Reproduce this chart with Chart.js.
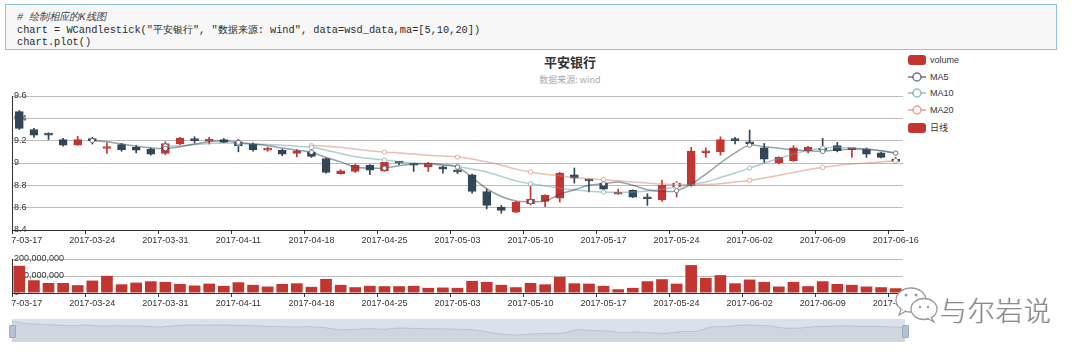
<!DOCTYPE html>
<html>
<head>
<meta charset="utf-8">
<script src="https://cdn.jsdelivr.net/npm/chart.js@4.4.0/dist/chart.umd.min.js"></script>
<style>
  body { margin: 0; width: 1080px; height: 354px; overflow: hidden; position: relative; background: #fff;
         font-family: "Liberation Sans", Arial, sans-serif; }
  .cell { position: absolute; left: 5px; top: 4px; width: 1050px; height: 44px;
          border: 1px solid #8ec3e2; background: #f7f7f7; }
  .cell pre { margin: 0; padding: 6px 0 0 11px; font-family: "Liberation Mono", "DejaVu Sans Mono", monospace;
              font-size: 10.3px; line-height: 12.5px; color: #2a2a2a; }
  .cell .cm { font-style: italic; color: #444; }
  .title { position: absolute; left: 470px; width: 200px; text-align: center; top: 52px;
           font: bold 13px "Noto Sans CJK SC", sans-serif; color: #333; }
  .subtitle { position: absolute; left: 470px; width: 200px; text-align: center; top: 73px;
              font: 9px "Noto Sans CJK SC", sans-serif; color: #aaa; }
  .lg { position: absolute; left: 908px; height: 12px; line-height: 12px; font-size: 9px; color: #333;
        font-family: "Liberation Sans", "Noto Sans CJK SC", sans-serif; white-space: nowrap; }
  .lg .box { display: inline-block; width: 18px; height: 10px; border-radius: 3px; background: #c23531;
             vertical-align: middle; margin-right: 4px; margin-top: -2px; }
  .lg svg { vertical-align: middle; margin-right: 4px; margin-top: -2px; }
  canvas { position: absolute; }
  .slider { position: absolute; left: 12px; top: 319px; width: 893px; height: 23px; background: #dbe1ea; }
  .handle { position: absolute; top: 325px; width: 5px; height: 11px; background: #b4c2d4; border: 1px solid #9aaac0; border-radius: 1px; }
  .wm { position: absolute; left: 940px; top: 290px; font: 300 27px "Noto Sans CJK SC", sans-serif; color: #8a8a8a;
        text-shadow: 1px 1px 0 #fff, -1px 0 0 #ccc; letter-spacing: 1px; }
</style>
</head>
<body>
<div class="cell"><pre><span class="cm"># 绘制相应的K线图</span>
chart = WCandlestick("平安银行", "数据来源: wind", data=wsd_data,ma=[5,10,20])
chart.plot()</pre></div>

<div class="title">平安银行</div>
<div class="subtitle">数据来源: wind</div>

<div class="lg" style="top:54px"><span class="box"></span>volume</div>
<div class="lg" style="top:71px"><svg width="18" height="12"><line x1="0" y1="6" x2="18" y2="6" stroke="rgba(47,69,84,0.7)" stroke-width="1.5"/><circle cx="9" cy="6" r="4" fill="#fff" stroke="rgba(47,69,84,0.7)" stroke-width="1.5"/></svg>MA5</div>
<div class="lg" style="top:87px"><svg width="18" height="12"><line x1="0" y1="6" x2="18" y2="6" stroke="rgba(97,160,168,0.7)" stroke-width="1.5"/><circle cx="9" cy="6" r="4" fill="#fff" stroke="rgba(97,160,168,0.7)" stroke-width="1.5"/></svg>MA10</div>
<div class="lg" style="top:104px"><svg width="18" height="12"><line x1="0" y1="6" x2="18" y2="6" stroke="rgba(212,130,101,0.7)" stroke-width="1.5"/><circle cx="9" cy="6" r="4" fill="#fff" stroke="rgba(212,130,101,0.7)" stroke-width="1.5"/></svg>MA20</div>
<div class="lg" style="top:122px"><span class="box"></span>日线</div>

<canvas id="mainChart" width="1069" height="162" style="left:11px; top:86px;"></canvas>
<canvas id="volChart" width="1069" height="62" style="left:11px; top:249px;"></canvas>

<div class="slider"><canvas id="zoomChart" width="893" height="23" style="left:0; top:0;"></canvas></div>
<div class="handle" style="left:9px"></div>
<div class="handle" style="left:902px"></div>

<svg style="position:absolute; left:893px; top:283px" width="48" height="44">
  <ellipse cx="18" cy="17" rx="15" ry="12" fill="#fff" stroke="#999" stroke-width="1.3"/>
  <path d="M8 26 L6 32 L13 28" fill="#fff" stroke="#999" stroke-width="1.3"/>
  <ellipse cx="31" cy="26" rx="13" ry="10.5" fill="#fff" stroke="#999" stroke-width="1.3"/>
  <path d="M38 34 L41 39 L34 35" fill="#fff" stroke="#999" stroke-width="1.3"/>
  <circle cx="13" cy="12" r="1.5" fill="#999"/><circle cx="23" cy="12" r="1.5" fill="#999"/>
  <circle cx="27" cy="24" r="1.2" fill="#999"/><circle cx="35" cy="24" r="1.2" fill="#999"/>
</svg>
<div class="wm">与尔岩说</div>

<script>
const dates = [
  '2017-03-17','2017-03-20','2017-03-21','2017-03-22','2017-03-23','2017-03-24','2017-03-27','2017-03-28','2017-03-29','2017-03-30',
  '2017-03-31','2017-04-05','2017-04-06','2017-04-07','2017-04-10','2017-04-11','2017-04-12','2017-04-13','2017-04-14','2017-04-17',
  '2017-04-18','2017-04-19','2017-04-20','2017-04-21','2017-04-24','2017-04-25','2017-04-26','2017-04-27','2017-04-28','2017-05-02',
  '2017-05-03','2017-05-04','2017-05-05','2017-05-08','2017-05-09','2017-05-10','2017-05-11','2017-05-12','2017-05-15','2017-05-16',
  '2017-05-17','2017-05-18','2017-05-19','2017-05-22','2017-05-23','2017-05-24','2017-05-25','2017-05-26','2017-05-31','2017-06-01',
  '2017-06-02','2017-06-05','2017-06-06','2017-06-07','2017-06-08','2017-06-09','2017-06-12','2017-06-13','2017-06-14','2017-06-15',
  '2017-06-16'
];

const openPrices = [
  9.46, 9.30, 9.26, 9.21, 9.16, 9.21, 9.13, 9.165, 9.14, 9.125,
  9.085, 9.17, 9.21, 9.195, 9.21, 9.19, 9.17, 9.115, 9.115, 9.085,
  9.10, 9.04, 8.905, 8.925, 8.98, 8.93, 9.01, 8.985, 8.965, 8.965,
  8.93, 8.895, 8.745, 8.605, 8.56, 8.635, 8.655, 8.685, 8.895, 8.85,
  8.82, 8.72, 8.755, 8.69, 8.67, 8.785, 8.80, 9.09, 9.10, 9.21,
  9.19, 9.135, 9.00, 9.02, 9.11, 9.125, 9.155, 9.12, 9.125, 9.09,
  9.035
];
const closePrices = [
  9.31, 9.25, 9.25, 9.16, 9.21, 9.20, 9.145, 9.12, 9.115, 9.08,
  9.175, 9.22, 9.20, 9.21, 9.185, 9.155, 9.12, 9.13, 9.08, 9.11,
  9.06, 8.915, 8.93, 8.98, 8.935, 9.005, 9.00, 8.98, 9.00, 8.945,
  8.92, 8.745, 8.62, 8.575, 8.65, 8.675, 8.71, 8.91, 8.865, 8.84,
  8.765, 8.735, 8.695, 8.68, 8.80, 8.82, 9.105, 9.11, 9.21, 9.20,
  9.17, 9.035, 9.05, 9.135, 9.14, 9.115, 9.11, 9.13, 9.08, 9.05,
  9.015
];
const lowPrices = [
  9.30, 9.23, 9.21, 9.15, 9.16, 9.17, 9.085, 9.105, 9.09, 9.07,
  9.075, 9.165, 9.18, 9.17, 9.18, 9.10, 9.105, 9.105, 9.065, 9.055,
  9.05, 8.91, 8.90, 8.915, 8.895, 8.925, 8.985, 8.925, 8.925, 8.91,
  8.905, 8.73, 8.59, 8.55, 8.555, 8.625, 8.61, 8.65, 8.82, 8.74,
  8.755, 8.72, 8.69, 8.62, 8.655, 8.695, 8.79, 9.05, 9.07, 9.17,
  9.155, 9.005, 8.995, 9.015, 9.09, 9.09, 9.10, 9.05, 9.05, 9.045,
  9.005
];
const highPrices = [
  9.47, 9.31, 9.27, 9.22, 9.24, 9.23, 9.18, 9.175, 9.155, 9.135,
  9.19, 9.23, 9.235, 9.23, 9.22, 9.21, 9.18, 9.14, 9.125, 9.12,
  9.12, 9.045, 8.94, 8.99, 8.985, 9.01, 9.015, 8.99, 9.005, 8.97,
  8.94, 8.90, 8.765, 8.62, 8.655, 8.81, 8.715, 8.915, 8.955, 8.855,
  8.83, 8.765, 8.76, 8.725, 8.845, 8.835, 9.14, 9.135, 9.235, 9.23,
  9.295, 9.175, 9.055, 9.155, 9.15, 9.22, 9.185, 9.13, 9.135, 9.095,
  9.05
];
const volumes = [
  160, 75, 59, 59, 46, 73, 101, 51, 61, 69,
  65, 53, 44, 55, 42, 63, 48, 38, 53, 57,
  36, 83, 48, 34, 42, 40, 40, 42, 30, 32,
  30, 71, 65, 48, 34, 59, 51, 95, 57, 55,
  42, 22, 30, 69, 81, 55, 164, 89, 105, 57,
  79, 65, 38, 65, 40, 69, 53, 48, 38, 34,
  28
].map(v => v * 1e6);

const ma5 = [
  null, null, null, null, null, 9.20, 9.19, 9.17, 9.15, 9.135,
  9.13, 9.145, 9.17, 9.19, 9.20, 9.185, 9.17, 9.155, 9.135, 9.115,
  9.097, 9.05, 9.01, 8.965, 8.955, 8.954, 8.975, 8.99, 8.995, 8.985,
  8.963, 8.87, 8.77, 8.70, 8.66, 8.654, 8.66, 8.72, 8.76, 8.80,
  8.814, 8.83, 8.80, 8.76, 8.745, 8.752, 8.81, 8.90, 9.00, 9.09,
  9.16, 9.145, 9.133, 9.118, 9.109, 9.103, 9.118, 9.124, 9.124, 9.109,
  9.088
];
const ma10 = [
  null, null, null, null, null, null, null, null, null, null,
  9.15, 9.155, 9.165, 9.175, 9.18, 9.175, 9.17, 9.165, 9.16, 9.15,
  9.14, 9.115, 9.085, 9.055, 9.04, 9.026, 9.01, 9.00, 8.99, 8.98,
  8.969, 8.945, 8.92, 8.88, 8.84, 8.814, 8.795, 8.775, 8.76, 8.748,
  8.74, 8.738, 8.74, 8.75, 8.765, 8.785, 8.81, 8.83, 8.87, 8.91,
  8.954, 9.00, 9.04, 9.08, 9.115, 9.133, 9.14, 9.135, 9.125, 9.11,
  9.088
];
const ma20 = [
  null, null, null, null, null, null, null, null, null, null,
  null, null, null, null, null, null, null, null, null, null,
  9.156, 9.15, 9.14, 9.125, 9.11, 9.097, 9.09, 9.08, 9.07, 9.062,
  9.053, 9.035, 9.01, 8.98, 8.945, 8.92, 8.90, 8.885, 8.87, 8.86,
  8.85, 8.84, 8.83, 8.82, 8.812, 8.808, 8.806, 8.808, 8.815, 8.83,
  8.844, 8.865, 8.89, 8.915, 8.94, 8.96, 8.978, 8.99, 9.00, 9.01,
  9.02
];

const upColor = '#c23531';
const downColor = '#314656';
const candleColors = openPrices.map((o, i) => closePrices[i] >= o ? upColor : downColor);

Chart.defaults.font.family = '"Liberation Sans", Arial, sans-serif';
Chart.defaults.animation = false;

// x axis shared by price and volume charts: label every 5th trading day
function dateAxis() {
    return {
        type: 'category',
        offset: true,
        grid: {
            offset: true,
            drawOnChartArea: false,
            drawTicks: true,
            tickLength: 4,
            color: ctx => ctx.index % 5 === 0 ? '#333' : 'rgba(0,0,0,0)'
        },
        border: { color: '#333', width: 1 },
        ticks: {
            autoSkip: false,
            maxRotation: 0,
            minRotation: 0,
            padding: 1,
            color: '#333',
            font: { size: 9 },
            callback: function (val, i) { return i % 5 === 0 ? this.getLabelForValue(val) : ''; }
        },
        afterFit: s => { s.height = 18; s.paddingLeft = 0; s.paddingRight = 0; }
    };
}

function maLine(label, data, rgb, order) {
    return {
        type: 'line',
        label: label,
        data: data,
        borderColor: 'rgba(' + rgb + ',0.5)',
        borderWidth: 1.5,
        tension: 0.35,
        pointRadius: ctx => ctx.dataIndex % 5 === 0 ? 2.2 : 0,
        pointBackgroundColor: '#fff',
        pointBorderColor: 'rgba(' + rgb + ',0.6)',
        pointBorderWidth: 1,
        order: order
    };
}

const layoutOpts = { autoPadding: false, padding: { top: 10, right: 177, bottom: 0, left: 0 } };

new Chart(document.getElementById('mainChart').getContext('2d'), {
    data: {
        labels: dates,
        datasets: [
            maLine('MA5', ma5, '47,69,84', 0),
            maLine('MA10', ma10, '97,160,168', 1),
            maLine('MA20', ma20, '212,130,101', 2),
            {
                type: 'bar',
                label: '日线',
                data: openPrices.map((o, i) => [o, closePrices[i]]),
                backgroundColor: candleColors,
                borderColor: candleColors,
                borderWidth: 1,
                borderSkipped: false,
                barThickness: 8,
                minBarLength: 2,
                grouped: false,
                order: 3
            },
            {
                type: 'bar',
                label: 'wick',
                data: lowPrices.map((l, i) => [l, highPrices[i]]),
                backgroundColor: candleColors,
                barThickness: 1,
                grouped: false,
                order: 4
            }
        ]
    },
    options: {
        responsive: false,
        layout: layoutOpts,
        plugins: { legend: { display: false }, tooltip: { enabled: false } },
        scales: {
            x: dateAxis(),
            y: {
                min: 8.4,
                max: 9.6,
                grid: { color: '#bdbdbd', drawTicks: false },
                border: { color: '#333', width: 1 },
                ticks: {
                    stepSize: 0.2,
                    mirror: true,
                    padding: 2,
                    color: '#333',
                    font: { size: 9 },
                    callback: v => String(+v.toFixed(1))
                },
                afterFit: s => { s.width = 1; s.paddingTop = 0; s.paddingBottom = 0; }
            }
        }
    }
});

new Chart(document.getElementById('volChart').getContext('2d'), {
    type: 'bar',
    data: {
        labels: dates,
        datasets: [{
            label: 'volume',
            data: volumes,
            backgroundColor: upColor,
            barPercentage: 0.8,
            categoryPercentage: 1
        }]
    },
    options: {
        responsive: false,
        layout: layoutOpts,
        plugins: { legend: { display: false }, tooltip: { enabled: false } },
        scales: {
            x: dateAxis(),
            y: {
                min: 0,
                max: 200000000,
                grid: { color: '#bdbdbd', drawTicks: false },
                border: { color: '#333', width: 1 },
                ticks: {
                    stepSize: 100000000,
                    mirror: true,
                    padding: 2,
                    color: '#333',
                    font: { size: 9 },
                    callback: v => v.toLocaleString('en-US')
                },
                afterFit: s => { s.width = 1; s.paddingTop = 0; s.paddingBottom = 0; }
            }
        }
    }
});

// data shadow in the zoom slider
new Chart(document.getElementById('zoomChart').getContext('2d'), {
    type: 'line',
    data: {
        labels: dates,
        datasets: [{
            data: openPrices,
            borderColor: 'rgba(47,69,84,0.15)',
            borderWidth: 1,
            backgroundColor: 'rgba(47,69,84,0.07)',
            fill: 'start',
            pointRadius: 0,
            tension: 0.3
        }]
    },
    options: {
        responsive: false,
        layout: { autoPadding: false, padding: 0 },
        plugins: { legend: { display: false }, tooltip: { enabled: false } },
        scales: {
            x: { display: false },
            y: { display: false, min: 8.1, max: 9.6 }
        }
    }
});
</script>
</body>
</html>
